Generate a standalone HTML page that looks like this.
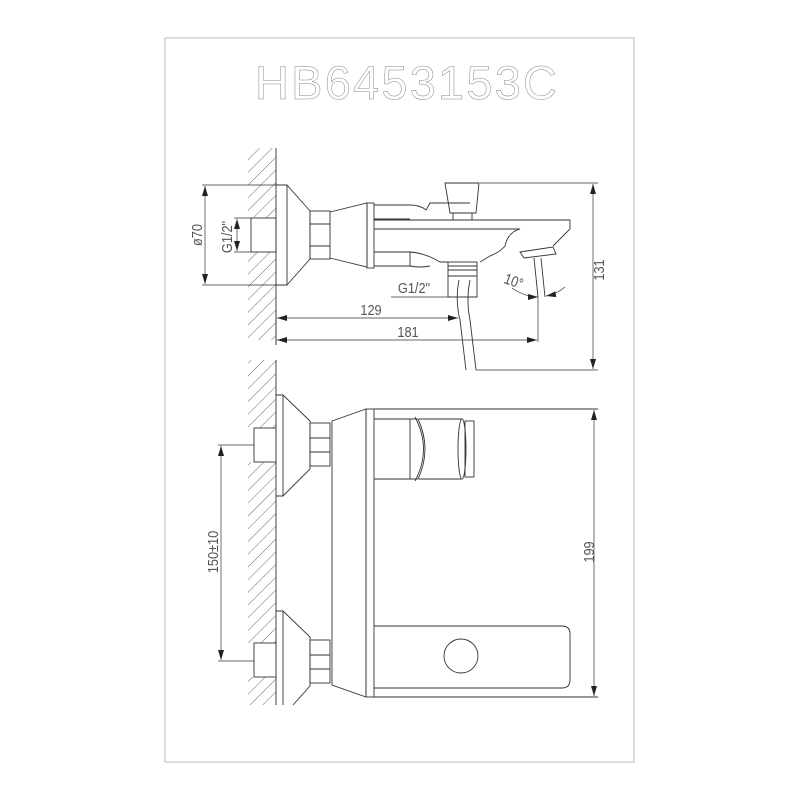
<!DOCTYPE html>
<html><head><meta charset="utf-8"><style>html,body{margin:0;padding:0;background:#fff}svg{display:block}</style></head>
<body>
<svg width="800" height="800" viewBox="0 0 800 800" xmlns="http://www.w3.org/2000/svg">
<defs>
<pattern id="h" patternUnits="userSpaceOnUse" width="9" height="9" patternTransform="rotate(45)">
<line x1="0" y1="0" x2="0" y2="9" stroke="#444" stroke-width="0.8"/>
</pattern>
<marker id="a" viewBox="0 0 10 6" refX="10" refY="3" markerWidth="10" markerHeight="6" orient="auto-start-reverse" markerUnits="userSpaceOnUse">
<path d="M0,0 L10,3 L0,6 z" fill="#222"/>
</marker>
</defs>
<rect x="165" y="38" width="469" height="724" fill="none" stroke="#bbb" stroke-width="1"/>
<text x="406" y="99" font-family="Liberation Sans, sans-serif" font-size="47" text-anchor="middle" textLength="302" fill="none" stroke="#888" stroke-width="0.5">HB6453153C</text>

<g fill="none" stroke="#333" stroke-width="0.9">
<rect x="248" y="148" width="28" height="70" fill="url(#h)" stroke="none"/>
<rect x="248" y="252" width="28" height="88" fill="url(#h)" stroke="none"/>
<rect x="248" y="360" width="28" height="68" fill="url(#h)" stroke="none"/>
<rect x="248" y="462" width="28" height="181" fill="url(#h)" stroke="none"/>
<rect x="248" y="677" width="28" height="28" fill="url(#h)" stroke="none"/>
<rect x="251" y="218" width="25" height="34" fill="#fff"/>
<line x1="276" y1="148" x2="276" y2="345"/>
<line x1="276" y1="360" x2="276" y2="705"/>

<path d="M276,185 H287 V285 H276"/>
<path d="M287,185 L310,211 V259 L287,285"/>
<rect x="310" y="211" width="20" height="48"/>
<line x1="310" y1="224" x2="330" y2="224"/><line x1="310" y1="246" x2="330" y2="246"/>
<path d="M330,212 L367,203 V267 L330,258"/>
<rect x="367" y="203" width="7" height="65"/>
<path d="M374,205 H410 Q420,205 426,210 L430,203 H470"/>
<path d="M374,219 H410"/>
<path d="M445,183 H479 L476,213 H450 Z"/>
<rect x="453" y="213" width="19" height="7"/>
<path d="M374,220 H570 V229 L553,246"/>
<path d="M374,229 H520 Q508,232 505,246 Q500,252 490,256 L480,262"/>
<path d="M374,252 H410 Q425,253 440,262 H448"/>
<path d="M374,266 H410"/>
<path d="M410,252 V266 Q420,268 430,266"/>
<path d="M520,252 L553,247 L556,254 L524,258 Z"/>
<rect x="448" y="262" width="29" height="14"/>
<line x1="448" y1="266" x2="477" y2="266"/><line x1="448" y1="270" x2="477" y2="270"/>
<rect x="448" y="276" width="29" height="21"/>
<path d="M459,280 Q455,300 460,320 L466,370"/>
<path d="M470,280 Q466,300 470,320 L476,370"/>
<path d="M534,258 L538,297"/><path d="M541,258 L545,297"/>
</g>

<g fill="none" stroke="#333" stroke-width="0.7">
<line x1="202" y1="185" x2="276" y2="185"/><line x1="202" y1="285" x2="276" y2="285"/>
<line x1="205" y1="186" x2="205" y2="284" marker-start="url(#a)" marker-end="url(#a)"/>
<line x1="234" y1="218" x2="251" y2="218"/><line x1="234" y1="252" x2="251" y2="252"/>
<line x1="237" y1="219" x2="237" y2="251" marker-start="url(#a)" marker-end="url(#a)"/>
<line x1="277" y1="318" x2="458" y2="318" marker-start="url(#a)" marker-end="url(#a)"/>
<line x1="277" y1="340" x2="537" y2="340" marker-start="url(#a)" marker-end="url(#a)"/>
<line x1="276" y1="310" x2="276" y2="345"/>
<line x1="538" y1="297" x2="538" y2="342"/>
<line x1="391" y1="297" x2="477" y2="297"/>
<line x1="480" y1="183" x2="598" y2="183"/><line x1="476" y1="370" x2="598" y2="370"/>
<line x1="593" y1="184" x2="593" y2="369" marker-start="url(#a)" marker-end="url(#a)"/>
<path d="M512,288 Q525,297 538,297" marker-end="url(#a)"/>
<path d="M565,287 Q557,294 546,296" marker-end="url(#a)"/>
</g>
<g font-family="Liberation Sans, sans-serif" font-size="15" fill="#555">
<text transform="translate(202,235) rotate(-90) scale(0.85,1)" text-anchor="middle">ø70</text>
<text transform="translate(232,237) rotate(-90) scale(0.85,1)" text-anchor="middle">G1/2"</text>
<text transform="translate(371,315) scale(0.85,1)" text-anchor="middle">129</text>
<text transform="translate(408,337) scale(0.85,1)" text-anchor="middle">181</text>
<text transform="translate(414,293) scale(0.85,1)" text-anchor="middle">G1/2"</text>
<text transform="translate(512,286) rotate(20) scale(0.85,1)" text-anchor="middle">10°</text>
<text transform="translate(604,270) rotate(-90) scale(0.85,1)" text-anchor="middle">131</text>
<text transform="translate(218,552) rotate(-90) scale(0.85,1)" text-anchor="middle">150±10</text>
<text transform="translate(594,552) rotate(-90) scale(0.85,1)" text-anchor="middle">199</text>
</g>

<g fill="none" stroke="#333" stroke-width="0.9">
<rect x="254" y="428" width="22" height="34" fill="#fff"/>
<rect x="254" y="643" width="22" height="34" fill="#fff"/>
<path d="M276,395 H283 V496 H276"/>
<path d="M283,395 L310,421 V469 L283,496"/>
<rect x="310" y="423" width="20" height="43"/>
<line x1="310" y1="438" x2="330" y2="438"/><line x1="310" y1="452" x2="330" y2="452"/>
<path d="M276,611 H283 V705"/>
<path d="M283,611 L310,637 V686 L293,705"/>
<rect x="310" y="640" width="20" height="43"/>
<line x1="310" y1="655" x2="330" y2="655"/><line x1="310" y1="669" x2="330" y2="669"/>
<path d="M332,421 L366,409 V697 L332,685 Z"/>
<rect x="366" y="409" width="8" height="288"/>
<line x1="374" y1="409" x2="598" y2="409"/><line x1="374" y1="697" x2="598" y2="697"/>
<path d="M374,419 H410 M374,479 H410 M410,419 V479"/>
<path d="M410,419 H418 Q432,449 418,479 H410"/>
<path d="M415,417 Q432,449 415,481"/>
<path d="M419,419 H462 M419,479 H462"/>
<ellipse cx="462" cy="449" rx="4" ry="30"/>
<rect x="465" y="421" width="9" height="56"/>
<path d="M374,626 H562 Q570,626 570,634 V680 Q570,688 562,688 H374"/>
<circle cx="461" cy="656" r="17"/>
</g>
<g fill="none" stroke="#333" stroke-width="0.7">
<line x1="218" y1="445" x2="254" y2="445"/><line x1="218" y1="661" x2="254" y2="661"/>
<line x1="221" y1="446" x2="221" y2="660" marker-start="url(#a)" marker-end="url(#a)"/>
<line x1="594" y1="410" x2="594" y2="696" marker-start="url(#a)" marker-end="url(#a)"/>
</g>
</svg>
</body></html>
